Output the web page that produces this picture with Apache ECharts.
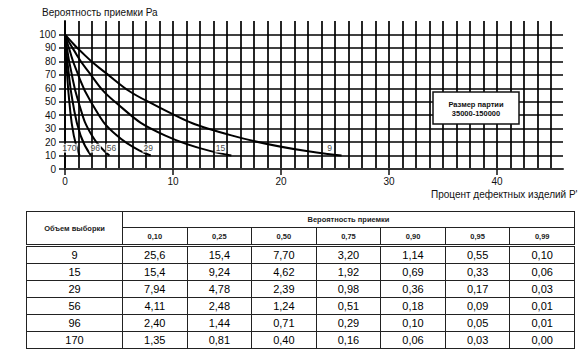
<!DOCTYPE html>
<html>
<head>
<meta charset="utf-8">
<script src="https://cdn.jsdelivr.net/npm/echarts@6/dist/echarts.min.js"></script>
<style>
  html, body { margin: 0; padding: 0; background: #fff; }
  #wrap { position: relative; width: 585px; height: 359px; overflow: hidden; background: #fff; }
  #chart { position: absolute; left: 0; top: 0; width: 585px; height: 205px; }
  #tbl { position: absolute; left: 26px; top: 211px; }
  table { border-collapse: collapse; table-layout: fixed; width: 549px;
          font-family: 'Liberation Sans', Arial, sans-serif; color: #000; }
  td, th { border: 1px solid #222; padding: 0; text-align: center; vertical-align: middle; overflow: hidden; white-space: nowrap; }
  th { font-weight: bold; font-size: 7.5px; color: #222; }
  .h1 th { height: 15px; }
  .h2 th { height: 16px; border-bottom: 3px double #222; }
  td { font-size: 11px; height: 16px; }
  table { border-top: 1.5px solid #111; border-right: 1.5px solid #111; }
</style>
</head>
<body>
<div id="wrap">
  <div id="chart"></div>
  <div id="tbl"></div>
</div>
<script>
// ---- data ----
const sampleSizes = [9, 15, 29, 56, 96, 170];
const acceptProb = [0.10, 0.25, 0.50, 0.75, 0.90, 0.95, 0.99];
const acceptProbLabels = ['0,10', '0,25', '0,50', '0,75', '0,90', '0,95', '0,99'];
const pct9   = [25.6, 15.4, 7.70, 3.20, 1.14, 0.55, 0.10];
const pct15  = [15.4, 9.24, 4.62, 1.92, 0.69, 0.33, 0.06];
const pct29  = [7.94, 4.78, 2.39, 0.98, 0.36, 0.17, 0.03];
const pct56  = [4.11, 2.48, 1.24, 0.51, 0.18, 0.09, 0.01];
const pct96  = [2.40, 1.44, 0.71, 0.29, 0.10, 0.05, 0.01];
const pct170 = [1.35, 0.81, 0.40, 0.16, 0.06, 0.03, 0.00];
const pctRows = [pct9, pct15, pct29, pct56, pct96, pct170];
const curveLabelNames = ['9', '15', '29', '56', '96', '170'];
const curveLabelX = [24.5, 14.4, 7.7, 4.3, 2.8, 0.4];
const curveLabelY = [15.5, 15.5, 15.5, 15.5, 15.5, 15.5];
const xTickValues = [0, 10, 20, 30, 40];
const yTitle = 'Вероятность приемки Ра';
const xTitle = "Процент дефектных изделий Р'";
const lotText = ['Размер партии', '35000-150000'];
const tableHead1 = 'Объем выборки';
const tableHead2 = 'Вероятность приемки';

// ---- table ----
function fmt(v) {
  const s = v >= 10 ? v.toFixed(1) : v.toFixed(2);
  return s.replace('.', ',');
}
(function buildTable() {
  let h = '<table><colgroup><col style="width:96px">';
  for (let i = 0; i < acceptProb.length; i++) h += '<col>';
  h += '</colgroup>';
  h += '<tr class="h1"><th rowspan="2" style="border-bottom:3px double #222">' + tableHead1 + '</th><th colspan="7">' + tableHead2 + '</th></tr>';
  h += '<tr class="h2">' + acceptProbLabels.map(l => '<th>' + l + '</th>').join('') + '</tr>';
  sampleSizes.forEach((n, r) => {
    h += '<tr><td>' + n + '</td>' + pctRows[r].map(v => '<td>' + fmt(v) + '</td>').join('') + '</tr>';
  });
  h += '</table>';
  document.getElementById('tbl').innerHTML = h;
})();

// ---- chart ----
const chart = echarts.init(document.getElementById('chart'), null, { renderer: 'svg' });
const ink = '#111';
const gridLine = { show: true, lineStyle: { color: '#000', width: 1.7 } };

const curveSeries = sampleSizes.map((n, r) => {
  const pts = [[0, 100]];
  for (let i = acceptProb.length - 1; i >= 0; i--) {
    pts.push([pctRows[r][i], acceptProb[i] * 100]);
  }
  return {
    name: 'n=' + n,
    type: 'line',
    xAxisIndex: 0, yAxisIndex: 0,
    data: pts,
    smooth: 0.5,
    showSymbol: false,
    symbol: 'none',
    lineStyle: { color: '#000', width: 2 },
    z: 5,
    silent: true
  };
});

const labelSeries = {
  type: 'scatter',
  xAxisIndex: 0, yAxisIndex: 0,
  symbolSize: 1,
  itemStyle: { color: 'rgba(0,0,0,0)' },
  data: curveLabelNames.map((t, i) => ({ name: t, value: [curveLabelX[i], curveLabelY[i]] })),
  label: {
    show: true, position: 'inside', formatter: '{b}',
    color: ink, fontSize: 8.5, fontFamily: 'Liberation Sans, Arial, sans-serif',
    backgroundColor: '#fff', padding: [0, 1]
  },
  z: 6, silent: true
};

const option = {
  backgroundColor: '#fff',
  animation: false,
  textStyle: { fontFamily: 'Liberation Sans, Arial, sans-serif', color: ink },
  grid: [
    { left: 65, top: 21, width: 498, height: 148 },      // main: curves & axis lines
    { left: 65, top: 21, width: 486, height: 148 },      // vertical grid lines
    { left: 65, top: 34.5, width: 498, height: 134.5 }   // horizontal grid lines + y labels
  ],
  xAxis: [
    {
      gridIndex: 0, type: 'value', min: 0, max: 46.1, interval: 10,
      axisLine: { show: true, onZero: false, lineStyle: { color: '#333', width: 2 } },
      axisTick: { show: true, length: 6, customValues: xTickValues, lineStyle: { color: ink, width: 1.5 } },
      axisLabel: { show: true, customValues: xTickValues, color: ink, fontSize: 10, margin: 7 },
      splitLine: { show: false }
    },
    {
      gridIndex: 1, type: 'value', min: 0, max: 45, interval: 1.25,
      axisLine: { show: false }, axisTick: { show: false }, axisLabel: { show: false },
      splitLine: gridLine
    },
    {
      gridIndex: 2, type: 'value', min: 0, max: 46.1,
      axisLine: { show: false }, axisTick: { show: false }, axisLabel: { show: false },
      splitLine: { show: false }
    }
  ],
  yAxis: [
    {
      gridIndex: 0, type: 'value', min: 0, max: 110,
      axisLine: { show: true, onZero: false, lineStyle: { color: '#000', width: 1.8 } },
      axisTick: { show: false }, axisLabel: { show: false }, splitLine: { show: false }
    },
    {
      gridIndex: 1, type: 'value', min: 0, max: 110,
      axisLine: { show: false }, axisTick: { show: false }, axisLabel: { show: false },
      splitLine: { show: false }
    },
    {
      gridIndex: 2, type: 'value', min: 0, max: 100, interval: 10,
      axisLine: { show: false },
      axisTick: { show: true, length: 6, lineStyle: { color: ink, width: 1.5 } },
      axisLabel: { show: true, color: ink, fontSize: 10, margin: 9 },
      splitLine: gridLine
    }
  ],
  series: curveSeries.concat([labelSeries]),
  graphic: [
    {
      type: 'text', left: 42, top: 7, z: 50,
      style: { text: yTitle, fill: ink, font: '10px "Liberation Sans", Arial, sans-serif' }
    },
    {
      type: 'text', left: 431, top: 189, z: 50,
      style: { text: xTitle, fill: ink, font: '10px "Liberation Sans", Arial, sans-serif' }
    },
    {
      type: 'rect', z: 50,
      shape: { x: 433, y: 92, width: 86, height: 32 },
      style: { fill: '#fff', stroke: ink, lineWidth: 1.5 }
    },
    {
      type: 'text', z: 51, x: 476, y: 104,
      style: { text: lotText[0], fill: ink, align: 'center', verticalAlign: 'middle',
               font: 'bold 7.5px "Liberation Sans", Arial, sans-serif' }
    },
    {
      type: 'text', z: 51, x: 476, y: 113,
      style: { text: lotText[1], fill: ink, align: 'center', verticalAlign: 'middle',
               font: 'bold 7.5px "Liberation Sans", Arial, sans-serif' }
    }
  ]
};
chart.setOption(option);
</script>
</body>
</html>
